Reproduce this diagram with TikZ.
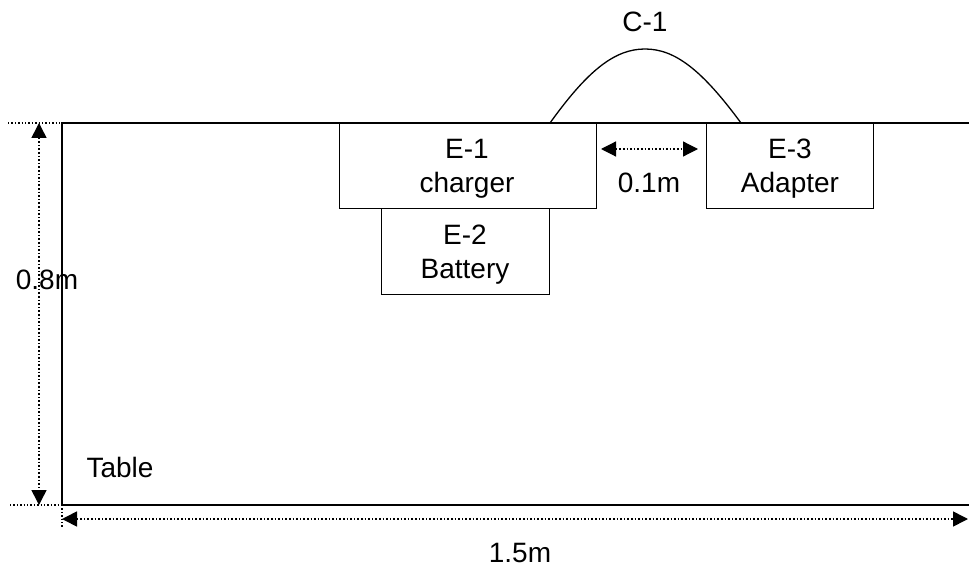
\documentclass[tikz,border=0pt]{standalone}
\usepackage{fontspec}
\setmainfont{Liberation Sans}
\usetikzlibrary{arrows.meta}
\begin{document}
\begin{tikzpicture}[x=1pt,y=-1pt,
  lbl/.style={font=\fontsize{28}{34}\selectfont, inner sep=0pt, align=center},
  box/.style={draw, line width=1.3pt, inner sep=0pt, anchor=north west},
  dim/.style={line width=1.6pt, dotted, {Triangle[length=15pt,width=15pt]}-{Triangle[length=15pt,width=15pt]}},
  ext/.style={line width=1.4pt, dotted},
  edge/.style={line width=1.8pt}]
\useasboundingbox (0,0) rectangle (969,572);
% table
\coordinate (tl) at (62,123);
\coordinate (tr) at (969,123);
\coordinate (bl) at (62,505);
\coordinate (br) at (969,505);
\draw[edge] (tr) -- (tl) -- (bl) -- (br);
% extension lines
\coordinate (et) at (8,123);
\coordinate (eb) at (10,505);
\coordinate (eb2) at (80,505);
\coordinate (ev) at (62,528);
\draw[ext] (et) -- (tl);
\draw[ext] (eb) -- (eb2);
\draw[ext] (bl) -- (ev);
% vertical dimension
\coordinate (vt) at (39,123);
\coordinate (vb) at (39,505);
\draw[dim] (vt) -- (vb);
% horizontal dimension
\coordinate (hl) at (62,519);
\coordinate (hr) at (968,519);
\draw[dim] (hl) -- (hr);
% boxes
\node[box, minimum width=257pt, minimum height=85pt] (e1) at (339,123) {};
\node[box, minimum width=168pt, minimum height=86pt] (e2) at (381,208) {};
\node[box, minimum width=167pt, minimum height=85pt] (e3) at (706,123) {};
\node[lbl] at (467,169) {E-1\\charger};
\node[lbl] at (465,255) {E-2\\Battery};
\node[lbl] at (790,169) {E-3\\Adapter};
% gap dimension
\coordinate (gl) at (601,149);
\coordinate (gr) at (698,149);
\draw[dim, line width=1.2pt] (gl) -- (gr);
\node[lbl] (gap) at (649,183) {0.1m};
% cable
\coordinate (ca) at (550,123);
\coordinate (cp) at (645,49);
\coordinate (cb) at (741,123);
\draw[line width=1.3pt] (ca) .. controls (588,70) and (615,49) .. (cp) .. controls (675,49) and (702,70) .. (cb);
\node[lbl] (c1) at (645,22) {C-1};
% labels
\node[lbl] (table) at (120,467) {Table};
\node[lbl] (h) at (47,280) {0.8m};
\node[lbl] (w) at (520,553) {1.5m};
\end{tikzpicture}
\end{document}
